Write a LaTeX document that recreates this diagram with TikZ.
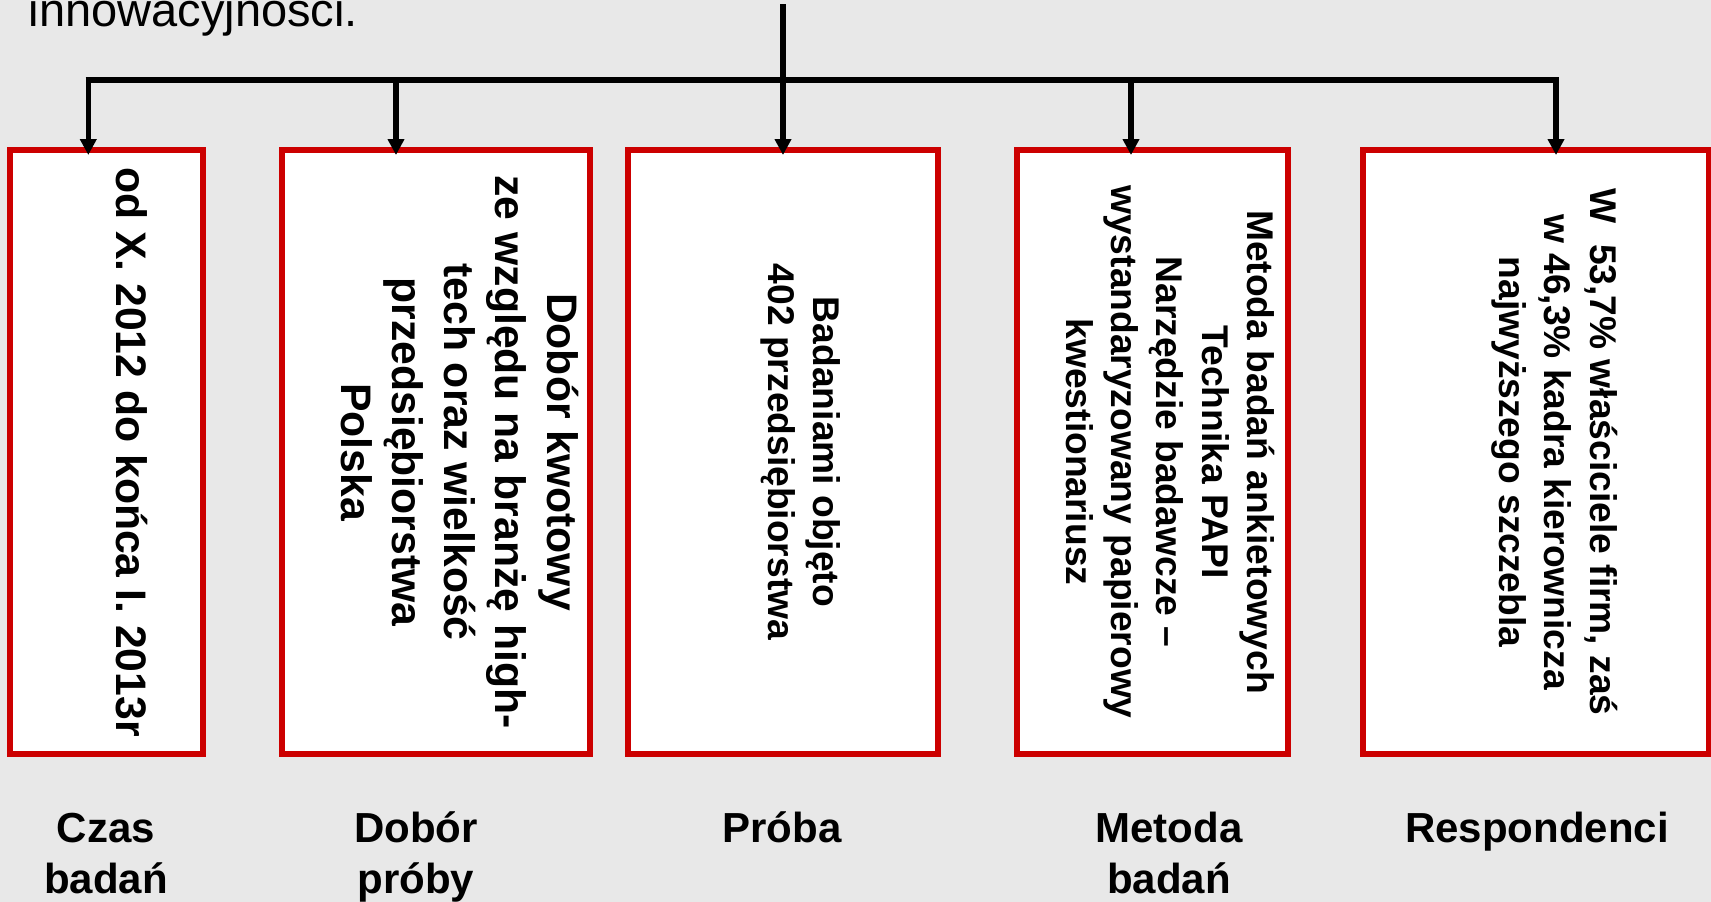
\documentclass[tikz,border=0pt]{standalone}
\usepackage{fontspec}
\setmainfont{Liberation Sans}
\usetikzlibrary{arrows.meta}
\definecolor{bgray}{RGB}{232,232,232}
\definecolor{boxred}{RGB}{204,0,0}
\begin{document}
\begin{tikzpicture}[x=1pt,y=-1pt,
  boxframe/.style={draw=boxred, line width=6pt, fill=white, rectangle, inner sep=0pt, outer sep=0pt, minimum height=604pt},
  vtextbig/.style={rotate=-90, inner sep=0pt, font=\fontsize{42.7}{51.5}\selectfont\bfseries},
  vtextsmall/.style={rotate=-90, inner sep=0pt, font=\fontsize{37.2}{45.3}\selectfont\bfseries},
  labeltext/.style={inner sep=0pt, font=\fontsize{42}{51}\selectfont\bfseries},
  feed/.style={line width=5.5pt, -{Triangle[width=16pt,length=16pt]}, shorten >=-5pt},
  busline/.style={line width=6pt, shorten <=-2.75pt, shorten >=-2.75pt}]
\useasboundingbox (0,0) rectangle (1711,902);
\clip (0,0) rectangle (1711,902);
\fill[bgray] (0,0) rectangle (1711,902);

% top text (cut by the upper edge, as in the original)
\node[anchor=base west, inner sep=0pt, font=\fontsize{47}{56}\selectfont] (toptext) at (28.5,26) {innowacyjności.};

% boxes
\node[boxframe, minimum width=193pt] (b1) at (106.5,452) {};
\node[boxframe, minimum width=308pt] (b2) at (436,452) {};
\node[boxframe, minimum width=310pt] (b3) at (783,452) {};
\node[boxframe, minimum width=271pt] (b4) at (1152.5,452) {};
\node[boxframe, minimum width=346pt] (b5) at (1536,452) {};

% box texts
\node[vtextbig] (t1) at (126.3,452) {\begin{tabular}{@{}c@{}}od X. 2012 do końca I. 2013r\end{tabular}};
\node[vtextbig] (t2) at (454.3,452) {\begin{tabular}{@{}c@{}}Dobór kwotowy\\ze względu na branżę high-\\tech oraz wielkość\\przedsiębiorstwa\\Polska\end{tabular}};
\node[vtextsmall] (t3) at (800,452) {\begin{tabular}{@{}c@{}}Badaniami objęto\\402 przedsiębiorstwa\end{tabular}};
\node[vtextsmall] (t4) at (1166,452) {\begin{tabular}{@{}c@{}}Metoda badań ankietowych\\Technika PAPI\\Narzędzie badawcze --\\wystandaryzowany papierowy\\kwestionariusz\end{tabular}};
\node[vtextsmall] (t5) at (1554,452) {\begin{tabular}{@{}c@{}}W~~53,7\% właściciele firm, zaś\\w 46,3\% kadra kierownicza\\najwyższego szczebla\end{tabular}};

% bottom labels
\node[labeltext] (l1) at (106,857.3) {\begin{tabular}{@{}c@{}}Czas\\badań\end{tabular}};
\node[labeltext] (l2) at (416,857.3) {\begin{tabular}{@{}c@{}}Dobór\\próby\end{tabular}};
\node[labeltext] (l3) at (782,831.8) {\begin{tabular}{@{}c@{}}Próba\end{tabular}};
\node[labeltext] (l4) at (1169,857.3) {\begin{tabular}{@{}c@{}}Metoda\\badań\end{tabular}};
\node[labeltext] (l5) at (1537,831.8) {\begin{tabular}{@{}c@{}}Respondenci\end{tabular}};

% connectors
\coordinate (top) at (783,4);
\coordinate (j1) at (88.3,80.3);
\coordinate (j2) at (396,80.3);
\coordinate (j4) at (1131,80.3);
\coordinate (j5) at (1556,80.3);
\draw[busline] (j1) -- (j5);
\draw[feed] (top) -- (top |- b3.north);
\draw[feed] (j1) -- (j1 |- b1.north);
\draw[feed] (j2) -- (j2 |- b2.north);
\draw[feed] (j4) -- (j4 |- b4.north);
\draw[feed] (j5) -- (j5 |- b5.north);
\end{tikzpicture}
\end{document}
